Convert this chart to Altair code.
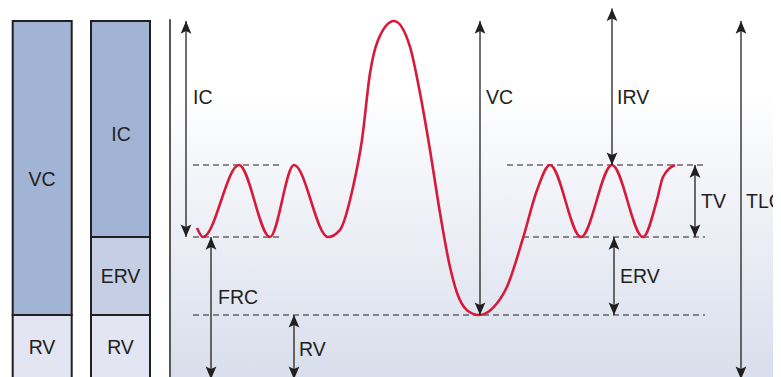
import altair as alt
import pandas as pd

# ---- volume levels (litres) ----
RV_LEVEL = 1.2     # residual volume
FRC_LEVEL = 2.5    # functional residual capacity (end-expiratory)
EIV_LEVEL = 3.7    # end of tidal inspiration
TLC_LEVEL = 6.1    # total lung capacity

# ---- spirogram trace (time units, volume) ----
trace_t = [197, 203, 239, 270, 294, 328, 340, 353, 362, 370, 378, 394, 410, 420, 430,
           440, 450, 457, 467, 479, 493, 507, 523, 537, 550, 581, 612, 643, 657, 663, 675]
trace_v = [2.65, 2.5, 3.7, 2.5, 3.7, 2.5, 2.62, 3.33, 4.12, 5.23, 5.78, 6.1, 5.67, 4.9, 3.95,
           2.9, 2.0, 1.57, 1.28, 1.2, 1.32, 1.67, 2.48, 3.28, 3.7, 2.5, 3.7, 2.5, 3.12, 3.5, 3.7]

# ---- stacked bars ----
bar_x0 = [12.7, 12.7, 91, 91, 91]
bar_x1 = [71.7, 71.7, 150, 150, 150]
bar_v0 = [0, RV_LEVEL, 0, RV_LEVEL, FRC_LEVEL]
bar_v1 = [RV_LEVEL, TLC_LEVEL, RV_LEVEL, FRC_LEVEL, TLC_LEVEL]
bar_fill = ["#e3e6f2", "#a2b4d5", "#e3e6f2", "#c4cee5", "#a2b4d5"]
bar_label = ["RV", "VC", "RV", "ERV", "IC"]
bar_label_x = [42, 42, 120.5, 120.5, 121]
bar_label_v = [0.65, 3.45, 0.65, 1.83, 4.2]

# ---- dashed reference lines ----
dash_t0 = [193, 193, 193, 507, 523]
dash_t1 = [283, 283, 705, 705, 705]
dash_v = [EIV_LEVEL, FRC_LEVEL, RV_LEVEL, EIV_LEVEL, FRC_LEVEL]

# ---- double arrows ----
arrow_name = ["IC", "FRC", "RV", "VC", "IRV", "TV", "ERV", "TLC"]
arrow_t = [186, 211, 294, 480, 612, 695, 614, 741]
arrow_lo = [FRC_LEVEL, 0.13, 0.13, RV_LEVEL, EIV_LEVEL, FRC_LEVEL, RV_LEVEL, 0.13]
arrow_hi = [TLC_LEVEL, FRC_LEVEL, RV_LEVEL, TLC_LEVEL, 6.31, EIV_LEVEL, FRC_LEVEL, TLC_LEVEL]

# ---- arrow labels ----
lab_text = ["IC", "FRC", "RV", "VC", "IRV", "TV", "ERV", "TLC"]
lab_t = [193, 218, 299, 486, 617, 701, 620, 746]
lab_v = [4.82, 1.48, 0.62, 4.82, 4.82, 3.08, 1.83, 3.08]

INK = "#231f20"
FONT = "Liberation Sans"
V_MIN, V_MAX = (387 - 377) / 60, (387 - 8) / 60
T_MIN, T_MAX = 8, 773

xs = alt.Scale(domain=[T_MIN, T_MAX], nice=False, zero=False)
ys = alt.Scale(domain=[V_MIN, V_MAX], nice=False, zero=False)
X = lambda f: alt.X(f, type="quantitative", scale=xs, axis=None)
Y = lambda f: alt.Y(f, type="quantitative", scale=ys, axis=None)

bg_df = pd.DataFrame({"t0": [171], "t1": [T_MAX], "v0": [V_MIN], "v1": [V_MAX]})
background = alt.Chart(bg_df).mark_rect(
    fill=alt.LinearGradient(
        gradient="linear", x1=0, x2=0, y1=0, y2=1,
        stops=[alt.GradientStop(color="#ffffff", offset=0),
               alt.GradientStop(color="#ffffff", offset=0.22),
               alt.GradientStop(color="#d9deec", offset=1)]),
    clip=True,
).encode(x=X("t0"), x2="t1", y=Y("v0"), y2="v1")

bars_df = pd.DataFrame({"x0": bar_x0, "x1": bar_x1, "v0": bar_v0, "v1": bar_v1, "fill": bar_fill})
bars = alt.Chart(bars_df).mark_rect(stroke=INK, strokeWidth=2, clip=True).encode(
    x=X("x0"), x2="x1", y=Y("v0"), y2="v1",
    fill=alt.Fill("fill:N", scale=None))

bar_lab_df = pd.DataFrame({"label": bar_label, "x": bar_label_x, "v": bar_label_v})
bar_labels = alt.Chart(bar_lab_df).mark_text(
    font=FONT, fontSize=19.5, color=INK, align="center", baseline="middle"
).encode(x=X("x"), y=Y("v"), text="label:N")

axis_df = pd.DataFrame({"t": [170], "v0": [-0.1], "v1": [6.13]})
axis_line = alt.Chart(axis_df).mark_rule(color=INK, strokeWidth=1.5, clip=True).encode(
    x=X("t"), y=Y("v0"), y2="v1")

dash_df = pd.DataFrame({"t0": dash_t0, "t1": dash_t1, "v": dash_v})
dashes = alt.Chart(dash_df).mark_rule(color=INK, strokeWidth=1, strokeDash=[6, 4]).encode(
    x=X("t0"), x2="t1", y=Y("v"))

trace_df = pd.DataFrame({"t": trace_t, "v": trace_v})
trace = alt.Chart(trace_df).mark_line(
    color="#d7193a", strokeWidth=2.6, interpolate="monotone"
).encode(x=X("t"), y=Y("v"), order="t:Q")

arr_df = pd.DataFrame({"name": arrow_name, "t": arrow_t, "lo": arrow_lo, "hi": arrow_hi})
arrow_shafts = alt.Chart(arr_df).mark_rule(color=INK, strokeWidth=1.3, clip=True).encode(
    x=X("t"), y=Y("lo"), y2="hi")
head_up = alt.Chart(arr_df).mark_point(
    shape="M0,-1L0.85,1L0,0.6L-0.85,1Z", size=160, filled=True, color=INK, opacity=1,
    yOffset=6.3, clip=True
).encode(x=X("t"), y=Y("hi"))
head_down = alt.Chart(arr_df).mark_point(
    shape="M0,1L0.85,-1L0,-0.6L-0.85,-1Z", size=160, filled=True, color=INK, opacity=1,
    yOffset=-6.3, clip=True
).encode(x=X("t"), y=Y("lo"))

lab_df = pd.DataFrame({"label": lab_text, "t": lab_t, "v": lab_v})
labels = alt.Chart(lab_df).mark_text(
    font=FONT, fontSize=19.5, color=INK, align="left", baseline="middle"
).encode(x=X("t"), y=Y("v"), text="label:N")

chart = alt.layer(
    background, bars, bar_labels, axis_line, dashes, trace,
    arrow_shafts, head_up, head_down, labels
).properties(
    width=765, height=369, padding=0, background="white",
    autosize=alt.AutoSizeParams(type="none")
).configure_view(stroke=None)

chart.save("out.html", embed_options={"renderer": "svg", "actions": False})
